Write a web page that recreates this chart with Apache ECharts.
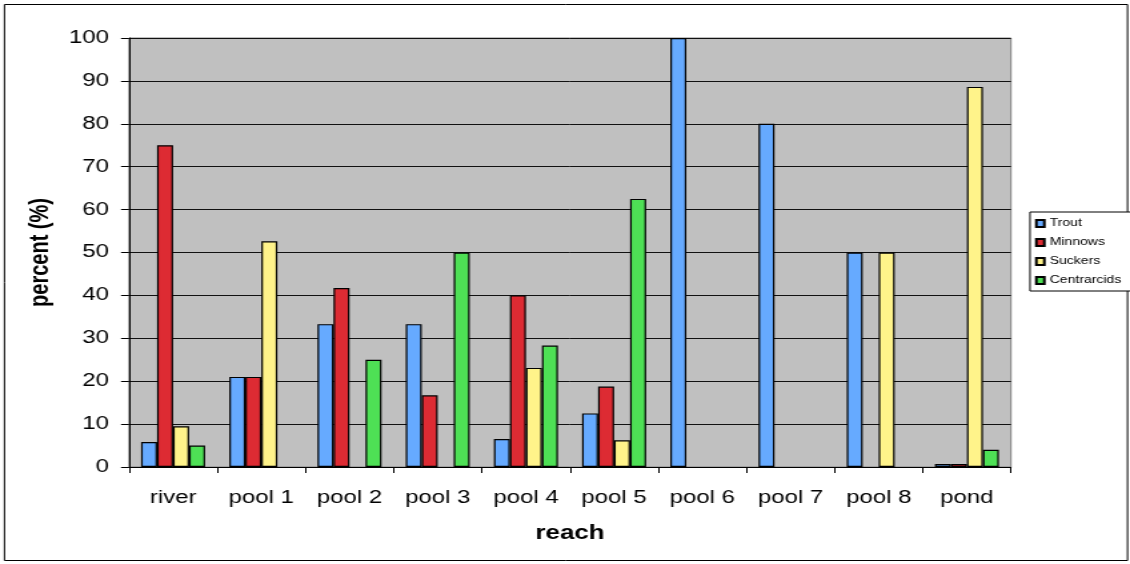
<!DOCTYPE html>
<html>
<head>
<meta charset="utf-8">
<script src="https://cdn.jsdelivr.net/npm/echarts@6/dist/echarts.min.js"></script>
<style>
  html, body { margin: 0; padding: 0; background: #fff; overflow: hidden; }
  /* The chart is laid out at a narrower width and widened, giving the broad lettering of the original plot */
  #chart { width: 848px; height: 564px; transform: scaleX(1.33255); transform-origin: 0 0; }
</style>
</head>
<body>
<div id="chart"></div>
<script>
// Fish composition by reach (percent of catch)
const reaches = ['river', 'pool 1', 'pool 2', 'pool 3', 'pool 4', 'pool 5', 'pool 6', 'pool 7', 'pool 8', 'pond'];
const trout       = [5.8, 21.0, 33.3, 33.3, 6.5, 12.5, 100, 80, 50, 0.7];
const minnows     = [75.0, 21.0, 41.7, 16.7, 40.0, 18.75, 0, 0, 0, 0.7];
const suckers     = [9.5, 52.6, 0, 0, 23.1, 6.25, 0, 0, 50, 88.6];
const centrarcids = [5.0, 0, 25.0, 50.0, 28.3, 62.5, 0, 0, 0, 4.0];
const yTicks = [0, 10, 20, 30, 40, 50, 60, 70, 80, 90, 100];

const FONT = '"Liberation Sans", Arial, sans-serif';
const S = 1130 / 848;            // horizontal widening of the drawing
const sx = v => v / S;           // page x-distance -> layout x-distance

function bar(name, data, color) {
  return {
    name: name,
    type: 'bar',
    // empty categories get no outline so nothing shows on the baseline
    data: data.map(v => (v === 0 ? { value: 0, itemStyle: { borderWidth: 0 } } : v)),
    barWidth: sx(16),
    barGap: '0%',
    barCategoryGap: '27%',
    itemStyle: { color: color, borderColor: '#000', borderWidth: 1.2 },
    emphasis: { disabled: true }
  };
}

const chart = echarts.init(document.getElementById('chart'));
chart.setOption({
  animation: false,
  backgroundColor: '#fff',
  textStyle: { fontFamily: FONT },
  graphic: [{
    type: 'rect',
    shape: { x: sx(4.5), y: 4.5, width: sx(1123), height: 556 },
    style: { fill: 'none', stroke: '#000', lineWidth: 1 },
    z: -10
  }],
  grid: {
    left: sx(129), right: sx(119), top: 38, bottom: 97,
    show: true, backgroundColor: '#c0c0c0', borderColor: '#808080', borderWidth: 1
  },
  legend: {
    orient: 'vertical',
    left: sx(1030), top: 212,
    padding: [6, sx(12), 5, sx(5)],
    itemGap: 8,
    itemWidth: sx(8), itemHeight: 7,
    icon: 'rect',
    borderColor: '#000', borderWidth: 1,
    backgroundColor: '#fff',
    textStyle: { fontFamily: FONT, fontSize: 10.5, color: '#000', padding: [0, 0, 0, -1] },
    selectedMode: false
  },
  xAxis: {
    type: 'category',
    data: reaches,
    name: 'reach',
    nameLocation: 'middle',
    nameGap: 57,
    nameTextStyle: { fontFamily: FONT, fontSize: 19.5, fontWeight: 'bold', color: '#000' },
    axisLine: { lineStyle: { color: '#000', width: 1 } },
    axisTick: { show: true, length: 6, lineStyle: { color: '#000' } },
    axisLabel: { fontFamily: FONT, fontSize: 18, color: '#000', margin: 22 }
  },
  yAxis: {
    type: 'value',
    min: 0, max: 100, interval: 10,
    name: 'percent (%)',
    nameLocation: 'middle',
    nameGap: 53,
    nameRotate: 90,
    nameTextStyle: { fontFamily: FONT, fontSize: 20, fontWeight: 'bold', color: '#000' },
    axisLine: { show: true, lineStyle: { color: '#000', width: 1 } },
    axisTick: { show: true, length: sx(8), lineStyle: { color: '#000' } },
    axisLabel: {
      fontFamily: FONT, fontSize: 18, color: '#000', margin: sx(20),
      formatter: v => (yTicks.indexOf(v) >= 0 ? String(v) : '')
    },
    splitLine: { show: true, lineStyle: { color: '#111', width: 1 } }
  },
  series: [
    bar('Trout', trout, '#66aaff'),
    bar('Minnows', minnows, '#dd2b33'),
    bar('Suckers', suckers, '#fff38a'),
    bar('Centrarcids', centrarcids, '#4ee055')
  ]
});
</script>
</body>
</html>
